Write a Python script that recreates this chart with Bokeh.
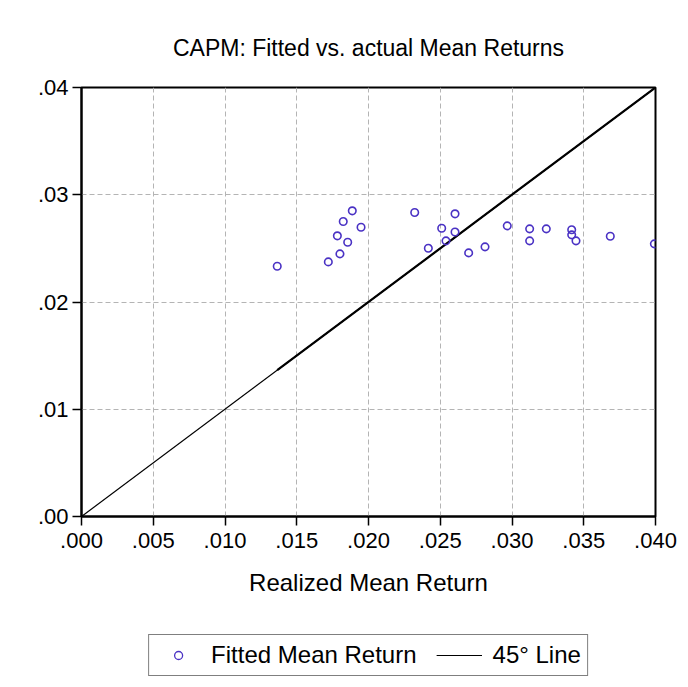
from bokeh.plotting import figure
from bokeh.layouts import column
from bokeh.models import ColumnDataSource, FixedTicker, Legend, LegendItem, Range1d
from bokeh.embed import file_html
from bokeh.resources import INLINE

# Data
realized = [0.01364, 0.01720, 0.01801, 0.01783, 0.01855, 0.01824, 0.01887, 0.01948,
            0.02322, 0.02603, 0.02510, 0.02603, 0.02540, 0.02417, 0.02698, 0.02812,
            0.02967, 0.03123, 0.03123, 0.03239, 0.03416, 0.03416, 0.03446, 0.03685,
            0.03992]
fitted = [0.02333, 0.02374, 0.02449, 0.02617, 0.02557, 0.02750, 0.02850, 0.02697,
          0.02835, 0.02822, 0.02688, 0.02652, 0.02570, 0.02501, 0.02458, 0.02514,
          0.02710, 0.02682, 0.02570, 0.02682, 0.02673, 0.02626, 0.02570, 0.02613,
          0.02542]

x_ticks = [0.000, 0.005, 0.010, 0.015, 0.020, 0.025, 0.030, 0.035, 0.040]
x_tick_labels = [".000", ".005", ".010", ".015", ".020", ".025", ".030", ".035", ".040"]
y_ticks = [0.00, 0.01, 0.02, 0.03, 0.04]
y_tick_labels = [".00", ".01", ".02", ".03", ".04"]
line_45 = [0.0, 0.04]
line_45_data = [min(realized), max(realized)]
series_labels = ["Fitted Mean Return", "45° Line"]

FONT = "Liberation Sans"
PT_COLOR = "#4a32c4"

p = figure(width=680, height=606, output_backend="svg", toolbar_location=None,
           x_range=Range1d(0, 0.04), y_range=Range1d(0, 0.04),
           min_border_left=81, min_border_right=25, min_border_top=87,
           min_border_bottom=90,
           title="CAPM: Fitted vs. actual Mean Returns")

p.background_fill_color = "#ffffff"
p.border_fill_color = "#ffffff"
p.outline_line_color = "black"
p.outline_line_width = 2

p.title.text_font = FONT
p.title.text_font_size = "23px"
p.title.text_font_style = "normal"
p.title.align = "center"
p.title.text_color = "black"
p.title.standoff = 53

for ax, ticks, labels in ((p.xaxis[0], x_ticks, x_tick_labels), (p.yaxis[0], y_ticks, y_tick_labels)):
    ax.ticker = FixedTicker(ticks=ticks)
    ax.major_label_overrides = {t: l for t, l in zip(ticks, labels)}
    ax.major_label_text_font = FONT
    ax.major_label_text_font_size = "22px"
    ax.major_label_text_color = "black"
    ax.major_tick_in = 0
    ax.major_tick_out = 9
    ax.minor_tick_in = 0
    ax.minor_tick_out = 0
    ax.axis_line_width = 2
    ax.axis_line_color = "black"
    ax.major_tick_line_color = "black"
    ax.major_tick_line_width = 1.5
    ax.major_label_standoff = 4
p.xaxis.major_label_standoff = 7

p.xaxis.axis_label = "Realized Mean Return"
p.xaxis.axis_label_text_font = FONT
p.xaxis.axis_label_text_font_size = "24px"
p.xaxis.axis_label_text_font_style = "normal"
p.xaxis.axis_label_text_color = "black"
p.xaxis.axis_label_standoff = 18

for g, ticks in ((p.xgrid[0], x_ticks), (p.ygrid[0], y_ticks)):
    g.ticker = FixedTicker(ticks=ticks)
    g.grid_line_color = "#b4b4b4"
    g.grid_line_dash = "5 3"
    g.grid_line_width = 1

src = ColumnDataSource(data=dict(x=realized, y=fitted))

p.line(line_45, line_45, line_color="black", line_width=1.2)
p.line(line_45_data, line_45_data, line_color="black", line_width=2.2)
p.scatter("x", "y", source=src, marker="circle", size=7.5,
          fill_color=None, line_color=PT_COLOR, line_width=1.6)

# Legend strip below the chart (separate figure so it is not clipped).
# Its ranges keep the proxy renderers out of view; only the legend shows.
lf = figure(width=680, height=73, output_backend="svg", toolbar_location=None,
            x_range=Range1d(1, 2), y_range=Range1d(1, 2),
            x_axis_location=None, y_axis_location=None,
            min_border_left=81, min_border_right=25, min_border_top=25, min_border_bottom=0)
lf.grid.visible = False
lf.outline_line_color = None
lf.background_fill_color = "#ffffff"
lf.border_fill_color = "#ffffff"

leg_pts = lf.scatter("x", "y", source=src, marker="circle", size=5, fill_color=None,
                     line_color=PT_COLOR, line_width=1.3)
leg_line = lf.line(line_45, line_45, line_color="black", line_width=1.2)

legend = Legend(items=[LegendItem(label=series_labels[0], renderers=[leg_pts]),
                       LegendItem(label=series_labels[1], renderers=[leg_line])],
                orientation="horizontal", location="center", margin=0,
                padding=6, spacing=20, glyph_width=46, glyph_height=20,
                label_standoff=10, label_text_font=FONT, label_text_font_size="24px",
                label_text_color="black", label_height=20,
                border_line_color="black", border_line_width=1,
                background_fill_color="#ffffff", background_fill_alpha=1)
lf.add_layout(legend, "center")

layout = column(p, lf, spacing=0)
open("out.html", "w").write(file_html(layout, INLINE))
